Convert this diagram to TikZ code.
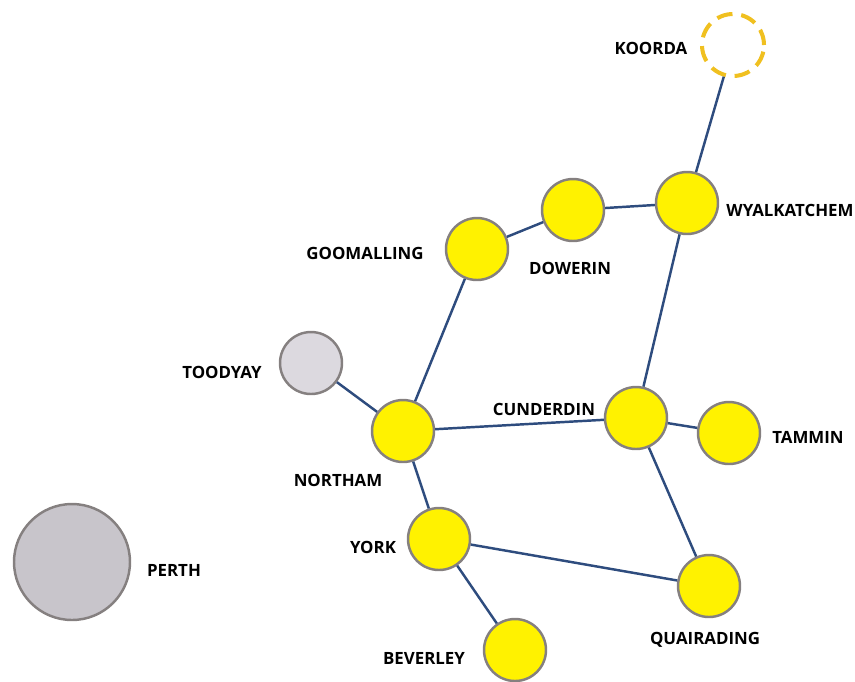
\documentclass[tikz,border=0pt]{standalone}
\usepackage{fontspec}
\setmainfont{Open Sans}
\usetikzlibrary{calc}

\definecolor{roadblue}{HTML}{2E4C7E}
\definecolor{ringgrey}{HTML}{858080}
\definecolor{kooyellow}{HTML}{F0C020}

\tikzset{
	town/.style = {circle, draw = ringgrey, line width = 1.4pt, fill = yellow, minimum size = 1.24cm, inner sep = 0pt},
	other/.style = {town, fill = {rgb,255:red,220;green,217;blue,223}},
	lbl/.style = {font = \bfseries\fontsize{9.6}{10}\selectfont, text = black},
	road/.style = {line width = 1.4pt, color = roadblue}
}

\begin{document}
\begin{tikzpicture}[x = 0.02cm, y = -0.02cm]
				\useasboundingbox (0,0) rectangle (855,681);
				% towns
				\node[town] (wyal) at (687,203) {};
				\node[town] (dow) at (573,210) {};
				\node[town] (goom) at (477,249) {};
				\node[other] (tood) at (311,363) {};
				\node[town] (nor) at (403,431) {};
				\node[town] (cun) at (636,418) {};
				\node[town] (tam) at (729,433) {};
				\node[town] (york) at (439,539) {};
				\node[town] (quai) at (709,586) {};
				\node[town] (bev) at (515,650) {};
				\node[other, minimum size = 2.32cm, fill = {rgb,255:red,200;green,197;blue,203}] (per) at (72,562) {};
				\node[circle, draw = kooyellow, line width = 2.3pt, dash pattern = on 9pt off 5pt, minimum size = 1.24cm, inner sep = 0pt] (koo) at (733,45) {};
				% labels
				\node[lbl] (kooL) at (651,48) {KOORDA};
				\node[lbl] (wyalL) at (790,210) {WYALKATCHEM};
				\node[lbl] (dowL) at (570,268) {DOWERIN};
				\node[lbl] (goomL) at (365,253) {GOOMALLING};
				\node[lbl] (toodL) at (222,372) {TOODYAY};
				\node[lbl] (cunL) at (544,409) {CUNDERDIN};
				\node[lbl] (tamL) at (808,437) {TAMMIN};
				\node[lbl] (norL) at (338,480) {NORTHAM};
				\node[lbl] (yorkL) at (373,547) {YORK};
				\node[lbl] (perL) at (174,570) {PERTH};
				\node[lbl] (quaiL) at (705,640) {QUAIRADING};
				\node[lbl] (bevL) at (424,658) {BEVERLEY};
				% roads
				\draw[road] (koo) -- (wyal);
				\draw[road] (wyal) -- (dow);
				\draw[road] (dow) -- (goom);
				\draw[road] (goom) -- (nor);
				\draw[road] (tood) -- (nor);
				\draw[road] (nor) -- (cun);
				\draw[road] (cun) -- (tam);
				\draw[road] (cun) -- (wyal);
				\draw[road] (cun) -- (quai);
				\draw[road] (nor) -- (york);
				\draw[road] (york) -- (quai);
				\draw[road] (york) -- (bev);
			\end{tikzpicture}
\end{document}
